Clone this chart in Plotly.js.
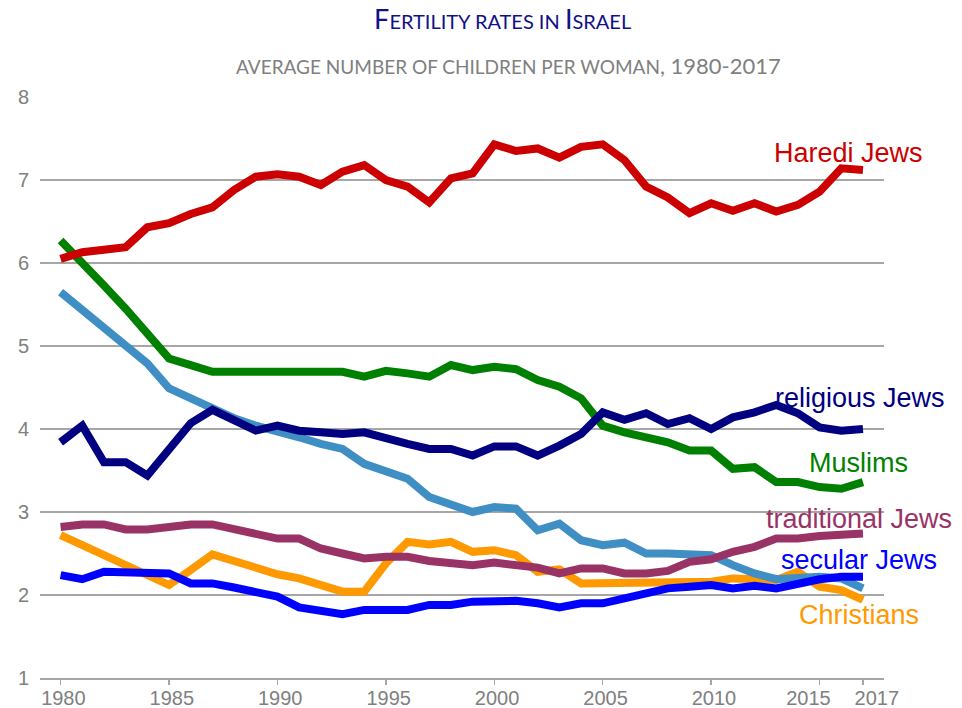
<!DOCTYPE html>
<html>
<head>
<meta charset="utf-8">
<script src="https://cdn.plot.ly/plotly-3.0.1.min.js"></script>
<style>html,body{margin:0;padding:0;background:#fff;}#chart{width:962px;height:708px;}</style>
</head>
<body>
<div id="chart"></div>
<script>
const years = [1980,1981,1982,1983,1984,1985,1986,1987,1988,1989,1990,1991,1992,1993,1994,1995,1996,1997,1998,1999,2000,2001,2002,2003,2004,2005,2006,2007,2008,2009,2010,2011,2012,2013,2014,2015,2016,2017];

const haredi = [6.05,6.13,6.16,6.19,6.43,6.48,6.59,6.67,6.88,7.04,7.07,7.04,6.94,7.10,7.18,7.00,6.92,6.73,7.02,7.08,7.43,7.35,7.38,7.27,7.40,7.43,7.24,6.92,6.79,6.60,6.72,6.63,6.72,6.62,6.70,6.86,7.14,7.12];
const religious = [3.84,4.04,3.60,3.60,3.44,3.76,4.07,4.23,4.10,3.98,4.04,3.98,3.96,3.94,3.96,3.88,3.82,3.76,3.76,3.68,3.79,3.79,3.68,3.80,3.94,4.20,4.11,4.19,4.06,4.13,4.00,4.14,4.20,4.29,4.19,4.02,3.98,4.00];
const muslims = [6.27,6.01,5.73,5.45,5.15,4.85,4.77,4.69,4.69,4.69,4.69,4.69,4.69,4.69,4.63,4.70,4.67,4.63,4.77,4.71,4.75,4.72,4.59,4.51,4.37,4.04,3.96,3.90,3.84,3.74,3.74,3.52,3.54,3.36,3.36,3.30,3.28,3.36];
const druze = [5.65,5.43,5.21,4.99,4.79,4.49,4.37,4.23,4.13,4.04,3.98,3.90,3.82,3.76,3.58,3.50,3.40,3.18,3.10,3.00,3.06,3.04,2.78,2.86,2.66,2.60,2.63,2.50,2.50,2.50,2.48,2.36,2.26,2.19,2.21,2.22,2.20,2.08];
const traditional = [2.82,2.85,2.85,2.79,2.79,2.82,2.85,2.85,2.79,2.73,2.68,2.68,2.56,2.50,2.44,2.46,2.46,2.41,2.39,2.36,2.39,2.36,2.33,2.26,2.32,2.32,2.26,2.26,2.29,2.40,2.43,2.52,2.58,2.68,2.68,2.71,2.72,2.74];
const christians = [2.72,2.60,2.50,2.38,2.25,2.12,2.30,2.49,2.41,2.33,2.25,2.20,2.12,2.04,2.04,2.38,2.64,2.61,2.64,2.52,2.54,2.48,2.28,2.31,2.14,2.14,2.14,2.14,2.14,2.16,2.16,2.20,2.18,2.18,2.28,2.10,2.06,1.94];
const secular = [2.24,2.19,2.28,2.28,2.28,2.26,2.14,2.14,2.09,2.04,1.98,1.85,1.82,1.77,1.82,1.82,1.82,1.88,1.88,1.92,1.93,1.93,1.90,1.85,1.90,1.90,1.96,2.02,2.08,2.10,2.12,2.08,2.11,2.08,2.14,2.19,2.22,2.22];

const xTicks = [1980,1985,1990,1995,2000,2005,2010,2015,2017];
const xTickText = ["\u00a01980","\u00a01985","\u00a01990","\u00a01995","\u00a02000","\u00a02005","\u00a02010","2015\u00a0\u00a0\u00a0\u00a0","\u00a0\u00a0\u00a0\u00a0\u00a02017"];
const yTicks = [1,2,3,4,5,6,7,8];

const seriesNames = ["Christians","Muslims","Druze","traditional Jews","secular Jews","religious Jews","Haredi Jews"];
const seriesValues = [christians, muslims, druze, traditional, secular, religious, haredi];
const seriesColors = ["#ff9900","#008000","#3f8fc5","#993366","#0000ff","#000080","#cc0000"];
// label positions (data coords)
const labelX = [2016.8, 2016.8, 2018.75, 2016.8, 2016.8, 2016.86, 2016.35];
const labelY = [1.76, 3.59, 2.08, 2.92, 2.42, 4.37, 7.32];

const traces = seriesNames.map((n,i)=>({
  x: years, y: seriesValues[i], name: n, type: 'scatter', mode: 'lines',
  line: {color: seriesColors[i], width: 8}, hoverinfo: 'x+y+name'
}));

const labelFont = "Liberation Sans, Arial, sans-serif";
const annotations = seriesNames.map((n,i)=>({
  x: labelX[i], y: labelY[i], xref: 'x', yref: 'y', text: n, showarrow: false,
  xanchor: 'center', yanchor: 'middle',
  font: {family: labelFont, size: 27, color: seriesColors[i]}
}));

annotations.push({
  xref: 'paper', yref: 'paper', x: 0.555, y: 1.0534, xanchor: 'center', yanchor: 'middle',
  text: 'AVERAGE NUMBER OF CHILDREN PER WOMAN<span style="font-size:22px">, 1980-2017</span>', showarrow: false,
  font: {family: 'Lato, Open Sans, sans-serif', size: 19, color: '#808080'}
});

const layout = {
  width: 962, height: 708,
  margin: {l: 40, r: 78, t: 97, b: 30},
  paper_bgcolor: '#ffffff', plot_bgcolor: '#ffffff',
  showlegend: false,
  title: {
    text: 'F<span style="font-size:20px">ERTILITY RATES IN </span>I<span style="font-size:20px">SRAEL</span>',
    font: {family: 'Lato, Open Sans, sans-serif', size: 27, color: '#10108a'},
    x: 0.5225, xanchor: 'center', y: 0.972, yanchor: 'middle', xref: 'container', yref: 'container'
  },
  xaxis: {
    range: [1979.05, 2017.97], tickvals: xTicks, ticktext: xTickText, tickangle: 0,
    showgrid: false, zeroline: false, showline: true, linecolor: '#a6a6a6', linewidth: 1.5,
    ticks: 'outside', ticklen: 5, tickcolor: '#a6a6a6', tickwidth: 1.5, ticklabelstandoff: -4,
    tickfont: {family: labelFont, size: 20, color: '#808080'}
  },
  yaxis: {
    range: [1, 8], tickvals: yTicks, showgrid: true, gridcolor: '#a6a6a6', gridwidth: 1.3,
    zeroline: false, showline: false, ticks: '', ticklabelstandoff: 10,
    tickfont: {family: labelFont, size: 20, color: '#808080'}
  },
  annotations: annotations
};

Plotly.newPlot('chart', traces, layout, {displayModeBar: false, staticPlot: true});
</script>
</body>
</html>
